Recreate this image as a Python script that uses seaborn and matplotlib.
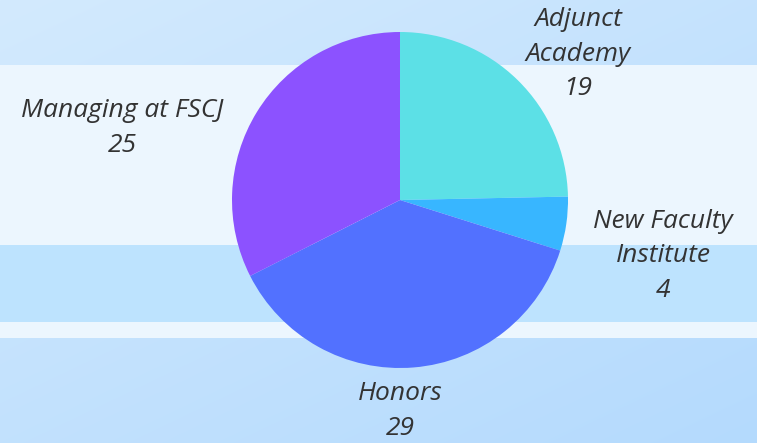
import numpy as np
import matplotlib
matplotlib.use('Agg')
import matplotlib.pyplot as plt
import seaborn as sns

# chart data
labels = ['Adjunct\nAcademy', 'New Faculty\nInstitute', 'Honors', 'Managing at FSCJ']
values = [19, 4, 29, 25]
colors = ['#5ce0e6', '#38b6ff', '#5271ff', '#8c52ff']

sns.set_theme(style='white')
plt.rcParams['font.family'] = ['Open Sans', 'DejaVu Sans']

W, H = 757, 443
fig = plt.figure(figsize=(W / 100, H / 100), dpi=100)

# background: soft diagonal gradient with lighter horizontal bands
bg = fig.add_axes([0, 0, 1, 1])
yy, xx = np.mgrid[0:H, 0:W]
t = (xx / W * 0.45 + yy / H * 0.55)
c0 = np.array([0xd3, 0xea, 0xfd]) / 255
c1 = np.array([0xb4, 0xda, 0xfe]) / 255
img = c0[None, None, :] * (1 - t[..., None]) + c1[None, None, :] * t[..., None]
light = np.array([0xec, 0xf6, 0xfe]) / 255
for y0, y1 in [(65, 245), (322, 338)]:
    img[y0:y1] = light
img[245:322] = np.array([0xbd, 0xe3, 0xfe]) / 255
bg.imshow(img, extent=[0, W, H, 0], aspect='auto')
bg.set_xlim(0, W)
bg.set_ylim(H, 0)
bg.axis('off')

# pie
r = 168
cx, cy = 400, 200
ax = fig.add_axes([(cx - r) / W, (H - cy - r) / H, 2 * r / W, 2 * r / H])
ax.pie(values, colors=colors, startangle=90, counterclock=False,
       wedgeprops=dict(linewidth=0))
ax.set_xlim(-1, 1)
ax.set_ylim(-1, 1)
ax.set_aspect('equal')
ax.axis('off')

# labels
label_pos = [(578, 54), (663, 256), (400, 411), (122, 128)]
for lab, val, (x, y) in zip(labels, values, label_pos):
    bg.text(x, y, f'{lab}\n{val}', ha='center', va='center', fontsize=19,
            style='italic', color='#333333', linespacing=1.5)

fig.savefig('out.png', dpi=100)
